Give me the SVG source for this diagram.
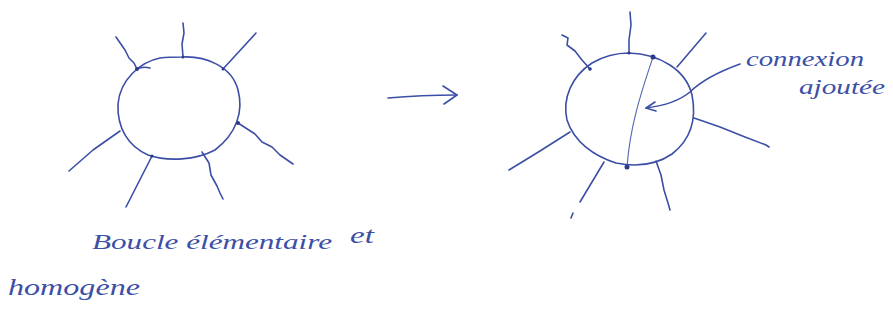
<svg xmlns="http://www.w3.org/2000/svg" width="893" height="326" viewBox="0 0 893 326">
<style>
.ink{fill:none;stroke:#3c4fa6;stroke-width:1.6;stroke-linecap:round;stroke-linejoin:round}
.thin{fill:none;stroke:#5566b5;stroke-width:1.1;stroke-linecap:round}
.dot{fill:#2b3a8c}
.hand{font-family:"Liberation Serif",serif;font-style:italic;fill:#3c4fa6}
</style>
<rect width="893" height="326" fill="#ffffff"/>
<g id="loop-left">
<path class="ink" d="M183,57 C205,56 232,66 238,90 C244,112 236,134 215,150 C196,160 168,162 148,155 C128,146 117,128 118,104 C120,80 140,62 160,58 C168,57 176,57 183,57 Z"/>
<path class="ink" d="M116,37 L125,50 L129,58 L134,63 L137,69"/>
<path class="ink" d="M137,69 C141,67 146,67 150,68"/>
<path class="ink" d="M183,23 L184,33 L182,44 L183,57"/>
<path class="ink" d="M256,33 L223,69"/>
<path class="ink" d="M238,123 L255,134 L262,142 L272,147 L280,155 L293,164"/>
<path class="ink" d="M202,152 L209,163 L211,175 L217,186 L220,193 L223,199"/>
<path class="ink" d="M152,156 L126,207"/>
<path class="ink" d="M120,131 L93,150 L69,171"/>
<circle class="dot" cx="137" cy="69" r="2"/>
<circle class="dot" cx="238" cy="123" r="2"/>
<circle class="dot" cx="152" cy="156" r="1.6"/>
<circle class="dot" cx="223" cy="69" r="1.5"/>
<circle class="dot" cx="183" cy="57" r="1.5"/>
</g>
<g id="connectors">
<path class="ink" d="M388,98 C410,96 435,95 457,95"/>
<path class="ink" d="M443,86 L457,95 L444,104"/>
</g>
<g id="loop-right">
<path class="ink" d="M629,53 C660,54 686,70 692,95 C697,120 690,140 672,154 C656,165 636,167 616,163 C594,156 574,142 567,120 C562,98 572,76 592,63 C604,56 616,53 629,53 Z"/>
<path class="ink" d="M562,35 L568,38 L567,45 L575,51 L582,60 L590,69"/>
<path class="ink" d="M630,12 L631,25 L629,40 L629,53"/>
<path class="ink" d="M706,33 L677,67"/>
<path class="ink" d="M694,118 L720,127 L745,137 L766,145 L769,147"/>
<path class="ink" d="M656,161 L661,175 L664,190 L668,203 L670,210"/>
<path class="ink" d="M604,162 L580,202"/>
<path class="ink" d="M573,213 L571,218"/>
<path class="ink" d="M570,132 L540,151 L509,170"/>
<path class="thin" d="M653,57 C642,90 630,125 627,167"/>
<circle class="dot" cx="653" cy="57" r="2.5"/>
<circle class="dot" cx="627" cy="167" r="2.5"/>
<circle class="dot" cx="590" cy="69" r="1.8"/>
<circle class="dot" cx="629" cy="53" r="1.5"/>
<path class="ink" d="M740,64 C718,72 700,82 690,92 C678,102 662,106 646,108"/>
<path class="ink" d="M655,102 L646,108 L656,111"/>
</g>
<g id="labels">
<text class="hand" x="746" y="66" font-size="21" textLength="118" lengthAdjust="spacingAndGlyphs">connexion</text>
<text class="hand" x="799" y="94" font-size="21" textLength="86" lengthAdjust="spacingAndGlyphs">ajoutée</text>
<text class="hand" x="92" y="249" font-size="22" textLength="240" lengthAdjust="spacingAndGlyphs">Boucle élémentaire</text>
<text class="hand" x="350" y="243" font-size="24" textLength="24" lengthAdjust="spacingAndGlyphs">et</text>
<text class="hand" x="8" y="295" font-size="24" textLength="132" lengthAdjust="spacingAndGlyphs">homogène</text>
</g>
</svg>
